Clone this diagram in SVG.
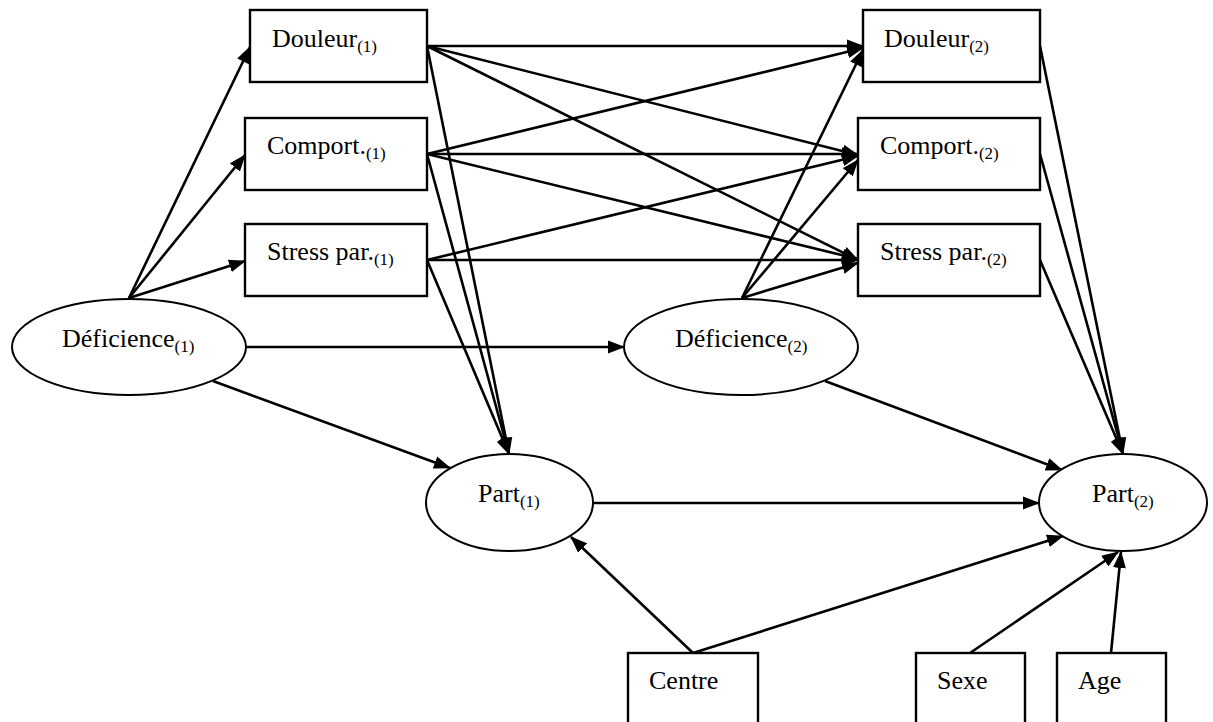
<svg xmlns="http://www.w3.org/2000/svg" width="1213" height="722" viewBox="0 0 1213 722">
<style>
.box{fill:#fff;stroke:#000;stroke-width:2.4}
.ell{fill:#fff;stroke:#000;stroke-width:2}
.t{font-family:"Liberation Serif","Times New Roman",serif;font-size:26px;fill:#000}
.s{font-size:17px}
.c line{stroke:#000;stroke-width:2.6;marker-end:url(#ah)}
</style>
<defs>
<marker id="ah" markerUnits="userSpaceOnUse" markerWidth="18" markerHeight="14" refX="16" refY="7" orient="auto">
<path d="M0,0.5 L17,7 L0,13.5 z" fill="#000"/>
</marker>
</defs>
<rect width="1213" height="722" fill="#fff"/>
<g id="connectors" class="c">
<line x1="129" y1="298" x2="250" y2="47"/>
<line x1="129" y1="298" x2="245" y2="155"/>
<line x1="129" y1="298" x2="245" y2="261"/>
<line x1="246" y1="347" x2="624" y2="347"/>
<line x1="213" y1="381" x2="450" y2="468"/>
<line x1="427" y1="46" x2="863" y2="46"/>
<line x1="427" y1="46" x2="858" y2="155"/>
<line x1="427" y1="46" x2="858" y2="260"/>
<line x1="427" y1="46" x2="509" y2="454"/>
<line x1="427" y1="154" x2="863" y2="48"/>
<line x1="427" y1="154" x2="858" y2="154"/>
<line x1="427" y1="154" x2="858" y2="259"/>
<line x1="427" y1="154" x2="509" y2="454"/>
<line x1="427" y1="260" x2="858" y2="156"/>
<line x1="427" y1="260" x2="858" y2="260"/>
<line x1="427" y1="260" x2="509" y2="454"/>
<line x1="742" y1="298" x2="863" y2="50"/>
<line x1="742" y1="298" x2="858" y2="160"/>
<line x1="742" y1="298" x2="858" y2="263"/>
<line x1="825" y1="381" x2="1062" y2="470"/>
<line x1="593" y1="503" x2="1039" y2="503"/>
<line x1="693" y1="653" x2="571" y2="537"/>
<line x1="693" y1="653" x2="1063" y2="536"/>
<line x1="1040" y1="46" x2="1123" y2="454"/>
<line x1="1040" y1="154" x2="1123" y2="454"/>
<line x1="1040" y1="260" x2="1123" y2="454"/>
<line x1="970" y1="653" x2="1118" y2="552"/>
<line x1="1111" y1="653" x2="1121" y2="552"/>
</g>
<g id="douleur1"><rect class="box" x="250" y="10" width="177" height="72"/><text class="t" x="272" y="47">Douleur<tspan class="s" dy="5">(1)</tspan></text></g>
<g id="comport1"><rect class="box" x="245" y="118" width="182" height="72"/><text class="t" x="267" y="154">Comport.<tspan class="s" dy="5">(1)</tspan></text></g>
<g id="stress1"><rect class="box" x="245" y="224" width="182" height="72"/><text class="t" x="267" y="260">Stress par.<tspan class="s" dy="5">(1)</tspan></text></g>
<g id="douleur2"><rect class="box" x="863" y="10" width="177" height="72"/><text class="t" x="884" y="47">Douleur<tspan class="s" dy="5">(2)</tspan></text></g>
<g id="comport2"><rect class="box" x="858" y="118" width="182" height="72"/><text class="t" x="880" y="154">Comport.<tspan class="s" dy="5">(2)</tspan></text></g>
<g id="stress2"><rect class="box" x="858" y="224" width="182" height="72"/><text class="t" x="880" y="260">Stress par.<tspan class="s" dy="5">(2)</tspan></text></g>
<g id="deficience1"><ellipse class="ell" cx="129" cy="347" rx="117" ry="48"/><text class="t" x="62" y="347">Déficience<tspan class="s" dy="5">(1)</tspan></text></g>
<g id="deficience2"><ellipse class="ell" cx="741" cy="347" rx="117" ry="48"/><text class="t" x="675" y="347">Déficience<tspan class="s" dy="5">(2)</tspan></text></g>
<g id="part1"><ellipse class="ell" cx="509.5" cy="502.5" rx="83.5" ry="48.5"/><text class="t" x="478" y="502">Part<tspan class="s" dy="5">(1)</tspan></text></g>
<g id="part2"><ellipse class="ell" cx="1123" cy="502.5" rx="84" ry="48.5"/><text class="t" x="1092" y="502">Part<tspan class="s" dy="5">(2)</tspan></text></g>
<g id="centre"><rect class="box" x="628" y="653" width="130" height="75"/><text class="t" x="649" y="689">Centre</text></g>
<g id="sexe"><rect class="box" x="916" y="653" width="109" height="75"/><text class="t" x="937" y="689">Sexe</text></g>
<g id="age"><rect class="box" x="1057" y="653" width="109" height="75"/><text class="t" x="1078" y="689">Age</text></g>
</svg>
